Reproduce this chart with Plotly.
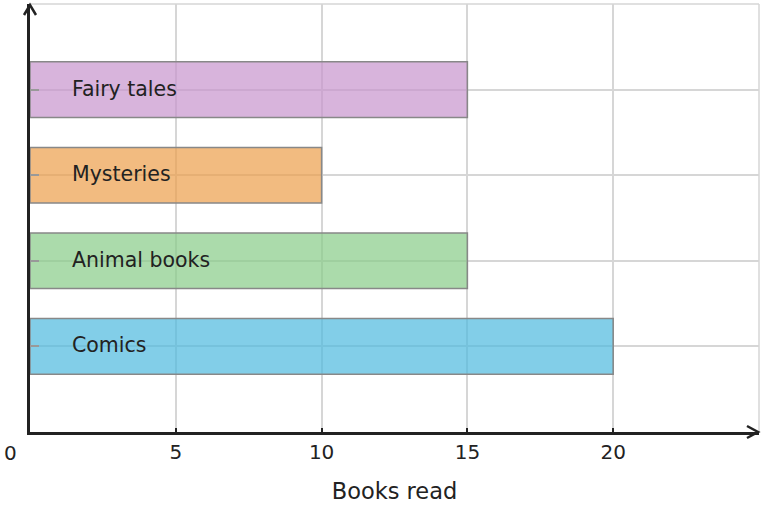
import plotly.graph_objects as go

categories = ["Comics", "Animal books", "Mysteries", "Fairy tales"]
books_read = [20, 15, 10, 15]
bar_colors = ["rgba(77,185,222,0.7)", "rgba(136,204,136,0.7)",
              "rgba(236,158,74,0.7)", "rgba(199,148,205,0.7)"]
x_ticks = [5, 10, 15, 20]
x_title = "Books read"

FONT = "DejaVu Sans"
DARK = "#222222"
GRID = "#d6d6d6"

ypos = list(range(len(categories)))

fig = go.Figure()
fig.add_trace(go.Bar(
    x=books_read, y=ypos, orientation="h", width=0.65,
    marker=dict(color=bar_colors, line=dict(color="#888888", width=1.5)),
    hoverinfo="skip", showlegend=False,
))

annotations = []
for i, c in enumerate(categories):
    annotations.append(dict(x=0, y=i, xref="x", yref="y", text=c, showarrow=False,
                            xanchor="left", yanchor="middle", xshift=40, yshift=1,
                            font=dict(family=FONT, size=20.5, color=DARK)))
annotations.append(dict(x=0, y=0, xref="x", yref="paper", text="0", showarrow=False,
                        xanchor="center", yanchor="middle", xshift=-20, yshift=-21,
                        font=dict(family=FONT, size=20, color=DARK)))

shapes = [
    dict(type="line", xref="paper", yref="paper", x0=0, x1=1, y0=1, y1=1,
         line=dict(color=GRID, width=1.5), layer="below"),
    dict(type="line", xref="paper", yref="paper", x0=1, x1=1, y0=0, y1=1,
         line=dict(color=GRID, width=1.5), layer="below"),
    dict(type="path", xref="paper", yref="paper", xsizemode="pixel", ysizemode="pixel",
         xanchor=1, yanchor=0, path="M -12,-6 L -1,0 L -12,6",
         line=dict(color=DARK, width=2.5)),
    dict(type="path", xref="paper", yref="paper", xsizemode="pixel", ysizemode="pixel",
         xanchor=0, yanchor=1, path="M -6,-11 L 0,-1 L 6,-11",
         line=dict(color=DARK, width=2.5)),
]

fig.update_layout(
    width=763, height=508,
    margin=dict(l=30, r=4, t=4, b=76),
    paper_bgcolor="white", plot_bgcolor="white",
    font=dict(family=FONT, color=DARK),
    annotations=annotations, shapes=shapes,
)
fig.update_xaxes(
    range=[0, 25], tickvals=x_ticks, ticktext=[str(v) for v in x_ticks],
    showgrid=True, gridcolor=GRID, gridwidth=1.5, zeroline=False,
    showline=True, linecolor=DARK, linewidth=2.5,
    ticks="inside", ticklen=4, tickcolor=DARK, tickwidth=2,
    tickfont=dict(family=FONT, size=20, color=DARK),
    title=dict(text=x_title, font=dict(family=FONT, size=22.5, color=DARK), standoff=21),
)
fig.update_yaxes(
    range=[-1, 4], tickvals=ypos, showticklabels=False,
    showgrid=True, gridcolor=GRID, gridwidth=1.5, zeroline=False,
    showline=True, linecolor=DARK, linewidth=2.5,
    ticks="inside", ticklen=9, tickcolor="#999999", tickwidth=1.5,
)

fig.write_html("out.html")
